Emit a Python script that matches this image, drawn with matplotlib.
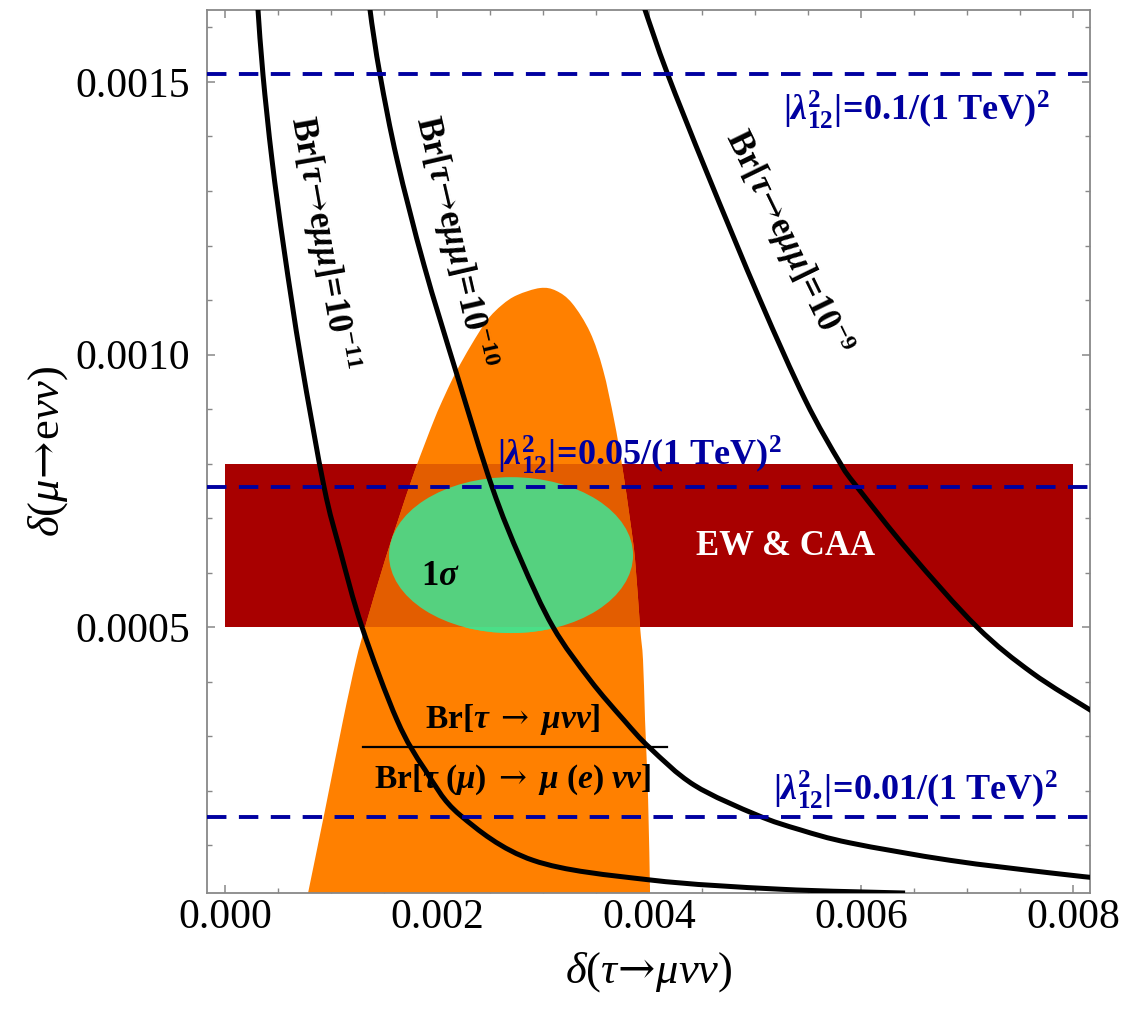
import numpy as np
import matplotlib
matplotlib.use("Agg")
import matplotlib.pyplot as plt
from matplotlib.patches import Rectangle, Ellipse, PathPatch
from matplotlib.path import Path
from matplotlib.ticker import MultipleLocator, FormatStrFormatter

plt.rcParams['font.family'] = ['Liberation Serif', 'DejaVu Serif']
plt.rcParams['mathtext.fontset'] = 'custom'
plt.rcParams['mathtext.rm'] = 'Liberation Serif'
plt.rcParams['mathtext.it'] = 'Liberation Serif:italic'
plt.rcParams['mathtext.bf'] = 'Liberation Serif:bold'
plt.rcParams['mathtext.bfit'] = 'Liberation Serif:italic:bold'
plt.rcParams['mathtext.cal'] = 'DejaVu Serif'   # used for the arrows

# ---- data (all values in units of 1e-3) ----
# Br[tau -> e mu mu] contours: delta(tau->mu nu nu) vs delta(mu->e nu nu)
br11_x = [0.292, 0.311, 0.358, 0.443, 0.557, 0.717, 0.934, 1.085, 1.292, 1.623, 1.887,
          2.217, 2.906, 4.009, 5.236, 6.415]
br11_y = [1.687, 1.632, 1.513, 1.357, 1.192, 0.990, 0.757, 0.641, 0.500, 0.329, 0.238,
          0.155, 0.072, 0.036, 0.019, 0.012]

br10_x = [1.349, 1.368, 1.462, 1.623, 1.877, 2.189, 2.519, 2.792, 3.094, 3.443, 3.764,
          4.009, 4.425, 5.019, 5.425, 5.896, 6.840, 7.783, 8.255]
br10_y = [1.687, 1.632, 1.513, 1.357, 1.164, 0.962, 0.757, 0.623, 0.500, 0.403, 0.329,
          0.278, 0.210, 0.155, 0.128, 0.104, 0.072, 0.049, 0.039]

br09_x = [3.868, 3.962, 4.170, 4.547, 5.047, 5.472, 5.802, 5.962, 6.462, 7.094, 7.613,
          8.160, 8.255]
br09_y = [1.687, 1.632, 1.517, 1.333, 1.100, 0.917, 0.801, 0.757, 0.636, 0.500, 0.416,
          0.348, 0.337]

# allowed region from Br[tau->mu nu nu]/Br[tau(mu)->mu(e) nu nu]
ratio_x = [0.771, 0.783, 0.943, 1.113, 1.236, 1.321, 1.509, 1.632, 1.792, 1.972, 2.075,
           2.179, 2.321, 2.472, 2.613, 2.755, 2.972, 3.123, 3.274, 3.443, 3.566, 3.670,
           3.745, 3.821, 3.868, 3.915, 3.943, 3.962, 3.991, 4.009, 4.009]
ratio_y = [0.000, 0.012, 0.164, 0.329, 0.439, 0.500, 0.623, 0.696, 0.788, 0.880, 0.926,
           0.968, 1.017, 1.063, 1.091, 1.109, 1.122, 1.117, 1.094, 1.041, 0.972, 0.880,
           0.797, 0.696, 0.623, 0.500, 0.439, 0.329, 0.183, 0.012, 0.000]

# EW & CAA band
band_x = [0.0, 8.0]
band_y = [0.5, 0.8]

# 1 sigma ellipse: centre and half-axes
sig_center = [2.698, 0.632]
sig_half = [1.151, 0.143]

# |lambda_12|^2 reference lines
lam_values = [0.1, 0.05, 0.01]
lam_delta = [1.514, 0.757, 0.1514]

xticks = [0.0, 0.002, 0.004, 0.006, 0.008]
yticks = [0.0005, 0.0010, 0.0015]

S = 1e-3
RED = '#A80000'
ORANGE = '#FF8000'
OVERLAP = '#E35D00'
GREEN = '#55D17F'
GREEN_LOW = '#4ADF88'
BLUE = '#0000A0'


def smooth_path(xs, ys, close=False):
    """Catmull-Rom curve through the given points, as cubic Bezier segments."""
    p = np.column_stack([xs, ys]) * S
    n = len(p)
    verts = [p[0]]
    codes = [Path.MOVETO]
    for i in range(n - 1):
        p0 = p[i - 1] if i > 0 else p[i]
        p3 = p[i + 2] if i + 2 < n else p[i + 1]
        c1 = p[i] + (p[i + 1] - p0) / 6.0
        c2 = p[i + 1] - (p3 - p[i]) / 6.0
        verts += [c1, c2, p[i + 1]]
        codes += [Path.CURVE4] * 3
    if close:
        verts.append(p[0])
        codes.append(Path.CLOSEPOLY)
    return Path(verts, codes)


fig = plt.figure(figsize=(11.4, 10.24), dpi=100)
ax = fig.add_axes([0.1816, 0.1279, 0.7746, 0.8623])
ax.set_xlim(-0.00017, 0.00816)
ax.set_ylim(0.000012, 0.001632)

# band
band = Rectangle((band_x[0] * S, band_y[0] * S), (band_x[1] - band_x[0]) * S,
                 (band_y[1] - band_y[0]) * S, facecolor=RED, edgecolor='none', zorder=1)
ax.add_patch(band)

# ratio region, plus the darker part where it overlaps the band
region = smooth_path(ratio_x, ratio_y, close=True)
ax.add_patch(PathPatch(region, facecolor=ORANGE, edgecolor='none', zorder=2))
ov = PathPatch(region, facecolor=OVERLAP, edgecolor='none', zorder=2.5)
ax.add_patch(ov)
ov.set_clip_path(band)

# 1 sigma ellipse (slightly brighter where it pokes out below the band)
ell_kw = dict(xy=(sig_center[0] * S, sig_center[1] * S), width=2 * sig_half[0] * S,
              height=2 * sig_half[1] * S, edgecolor='none')
ax.add_patch(Ellipse(facecolor=GREEN, zorder=3, **ell_kw))
low = Ellipse(facecolor=GREEN_LOW, zorder=3.1, **ell_kw)
ax.add_patch(low)
below = Rectangle((band_x[0] * S, 0.0), (band_x[1] - band_x[0]) * S, band_y[0] * S,
                  transform=ax.transData)
low.set_clip_path(below)

# dashed coupling lines
for d in lam_delta:
    ax.axhline(d * S, color=BLUE, lw=2.8, linestyle=(0, (5.0, 3.2)), zorder=5)

# Br contours
for xs, ys in [(br11_x, br11_y), (br10_x, br10_y), (br09_x, br09_y)]:
    ax.add_patch(PathPatch(smooth_path(xs, ys), facecolor='none', edgecolor='black',
                           lw=3.6, capstyle='butt', zorder=4))

# ---- text ----
ARROW = r'\mathcal{\rightarrow}'
lam_pos = [(5.264, 1.449), (2.566, 0.816), (5.170, 0.201)]
for v, (tx, ty) in zip(lam_values, lam_pos):
    ax.text(tx * S, ty * S,
            r'$\mathbf{|}\mathbfit{\lambda}^{\mathbf{2}}_{\mathbf{12}}\mathbf{|}\!\mathbf{=}\!\mathbf{%s/(1\ TeV)}^{\mathbf{2}}$' % v,
            color=BLUE, fontsize=26, ha='left', va='center', zorder=6)

br_labels = [('-11', 0.925, 1.205, -80), ('-10', 2.170, 1.206, -77), ('-9', 5.311, 1.206, -64)]
for ex, tx, ty, rot in br_labels:
    ax.text(tx * S, ty * S,
            r'$\mathbf{Br[}\mathbfit{\tau}\!' + ARROW + r'\!\mathbf{e}\mathbfit{\mu\mu}\mathbf{]}\!\mathbf{=}\!\mathbf{10^{%s}}$' % ex,
            fontsize=25, rotation=rot, rotation_mode='anchor', ha='center', va='center', zorder=6)

ax.text(5.283 * S, 0.647 * S, 'EW & CAA', color='white', fontsize=25, fontweight='bold',
        ha='center', va='center', zorder=6)
ax.text(2.028 * S, 0.592 * S, r'$\mathbf{1}\mathbfit{\sigma}$', fontsize=25,
        ha='center', va='center', zorder=6)

ax.text(2.712 * S, 0.315 * S,
        r'$\mathbf{Br[}\mathbfit{\tau}\ ' + ARROW + r'\ \mathbfit{\mu\nu\nu}\mathbf{]}$',
        fontsize=24, ha='center', va='baseline', zorder=6)
ax.plot([1.302 * S, 4.170 * S], [0.280 * S, 0.280 * S], color='black', lw=1.6, zorder=6)
ax.text(2.717 * S, 0.206 * S,
        r'$\mathbf{Br[}\mathbfit{\tau}\ \mathbf{(}\mathbfit{\mu}\mathbf{)}\ ' + ARROW +
        r'\ \mathbfit{\mu}\ \mathbf{(}\mathbfit{e}\mathbf{)}\ \mathbfit{\nu\nu}\mathbf{]}$',
        fontsize=24, ha='center', va='baseline', zorder=6)

# ---- axes styling ----
ax.set_xticks(xticks)
ax.set_yticks(yticks)
ax.xaxis.set_major_formatter(FormatStrFormatter('%.3f'))
ax.yaxis.set_major_formatter(FormatStrFormatter('%.4f'))
ax.xaxis.set_minor_locator(MultipleLocator(0.0005))
ax.yaxis.set_minor_locator(MultipleLocator(0.0001))
ax.tick_params(which='both', direction='in', top=True, right=True, color='#888888',
               labelsize=30)
ax.tick_params(which='major', length=6, width=1.1)
ax.tick_params(which='minor', length=3.5, width=1.0)
ax.tick_params(axis='x', pad=4)
ax.tick_params(axis='y', pad=12)
for sp in ax.spines.values():
    sp.set_color('#888888')
    sp.set_linewidth(1.3)

ax.set_xlabel(r'$\delta(\tau\!' + ARROW + r'\!\mu\nu\nu)$', fontsize=32)
ax.xaxis.set_label_coords(0.5, -0.064)
ax.set_ylabel(r'$\delta(\mu\!' + ARROW + r'\!\mathrm{e}\nu\nu)$', fontsize=32)
ax.yaxis.set_label_coords(-0.155, 0.5)

fig.savefig('out.png', dpi=100)
